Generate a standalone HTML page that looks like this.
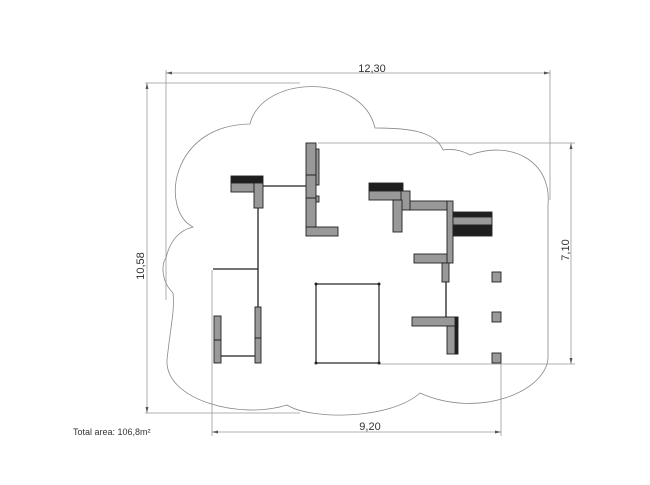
<!DOCTYPE html>
<html><head><style>
html,body{margin:0;padding:0;background:#fff;width:650px;height:485px;overflow:hidden}
svg{display:block}
text{font-family:"Liberation Sans",sans-serif;fill:#333}
</style></head><body>
<svg width="650" height="485" viewBox="0 0 650 485" xmlns="http://www.w3.org/2000/svg">
<g stroke="#999" stroke-width="0.8" fill="none">
<line x1="166" y1="73" x2="550" y2="73"/>
<line x1="166" y1="70" x2="166" y2="300"/>
<line x1="550" y1="70" x2="550" y2="200"/>
<line x1="147" y1="83" x2="147" y2="413"/>
<line x1="145" y1="83" x2="300" y2="83"/>
<line x1="145" y1="413" x2="300" y2="413"/>
<line x1="571" y1="143" x2="571" y2="364"/>
<line x1="318" y1="143" x2="575" y2="143"/>
<line x1="380" y1="364" x2="575" y2="364"/>
<line x1="212" y1="432" x2="501" y2="432"/>
<line x1="212" y1="270" x2="212" y2="436"/>
<line x1="501" y1="364" x2="501" y2="436"/>
</g>
<g fill="#555">
<path d="M166,73 l6,-1.5 v3z"/><path d="M550,73 l-6,-1.5 v3z"/>
<path d="M147,83 l-1.5,6 h3z"/><path d="M147,413 l-1.5,-6 h3z"/>
<path d="M571,143 l-1.5,6 h3z"/><path d="M571,364 l-1.5,-6 h3z"/>
<path d="M212,432 l6,-1.5 v3z"/><path d="M501,432 l-6,-1.5 v3z"/>
</g>
<path fill="none" stroke="#888" stroke-width="0.8" d="M250,124 C262,75 362,72 375,128 C405,128 435,130 443,150 C455,148 465,152 470,155 C510,140 552,160 548,205 L548,355 C550,390 480,420 420,393 C390,420 310,420 287,405 C240,420 165,400 167,360 C170,330 175,310 173,293 C160,280 162,262 166,258 C170,240 180,230 193,227 C160,210 170,125 250,124 Z"/>
<text x="372" y="72" font-size="11" text-anchor="middle">12,30</text>
<text x="370" y="430" font-size="11" text-anchor="middle">9,20</text>
<text transform="translate(144,266) rotate(-90)" font-size="11" text-anchor="middle">10,58</text>
<text transform="translate(569,250) rotate(-90)" font-size="11" text-anchor="middle">7,10</text>
<text x="73" y="435" font-size="9">Total area: 106,8m²</text>
<g stroke="#222" stroke-width="1.3" fill="none">
<line x1="263" y1="186" x2="307" y2="186"/>
<line x1="258" y1="208" x2="258" y2="307"/>
<line x1="213" y1="269" x2="258" y2="269"/>
<line x1="221" y1="356" x2="255" y2="356"/>
<line x1="446" y1="282" x2="446" y2="317"/>
<rect x="316" y="284" width="63" height="79" stroke-width="1.2"/>
</g>
<g fill="#222">
<circle cx="316" cy="284" r="1.5"/><circle cx="379" cy="284" r="1.5"/><circle cx="316" cy="363" r="1.5"/><circle cx="379" cy="363" r="1.5"/>
</g>
<g stroke="#222" stroke-width="0.9">
<rect x="231" y="176" width="32" height="7" fill="#1e1e1e"/>
<rect x="231" y="183" width="23" height="9" fill="#999"/>
<rect x="254" y="183" width="9" height="25" fill="#999"/>
<rect x="306" y="143" width="10" height="84" fill="#999"/>
<rect x="306" y="227" width="32" height="9" fill="#999"/>
<rect x="316" y="149" width="3" height="36" fill="#999"/>
<rect x="316" y="196" width="3" height="6" fill="#999"/>
<rect x="255" y="307" width="6" height="56" fill="#999"/>
<rect x="214" y="316" width="7" height="47" fill="#999"/>
<rect x="369" y="183" width="34" height="8" fill="#1e1e1e"/>
<rect x="369" y="191" width="33" height="9" fill="#999"/>
<rect x="401" y="191" width="9" height="19" fill="#999"/>
<rect x="393" y="200" width="9" height="32" fill="#999"/>
<rect x="410" y="201" width="37" height="9" fill="#999"/>
<rect x="447" y="201" width="6" height="62" fill="#999"/>
<rect x="453" y="212" width="39" height="5" fill="#1e1e1e"/>
<rect x="453" y="217" width="39" height="8" fill="#999"/>
<rect x="453" y="225" width="39" height="11" fill="#1e1e1e"/>
<rect x="414" y="254" width="33" height="9" fill="#999"/>
<rect x="442" y="263" width="7" height="19" fill="#999"/>
<rect x="412" y="317" width="46" height="9" fill="#999"/>
<rect x="447" y="326" width="10" height="28" fill="#999"/>
<rect x="455" y="317" width="3" height="37" fill="#1e1e1e"/>
<rect x="492" y="272" width="9" height="10" fill="#999"/>
<rect x="492" y="312" width="9" height="10" fill="#999"/>
<rect x="492" y="353" width="9" height="10" fill="#999"/>
</g>
<g stroke="#222" stroke-width="1">
<line x1="214" y1="340" x2="221" y2="340"/><line x1="255" y1="338" x2="261" y2="338"/>
<line x1="306" y1="175" x2="316" y2="175"/><line x1="306" y1="198" x2="316" y2="198"/>
</g>
</svg>
</body></html>
